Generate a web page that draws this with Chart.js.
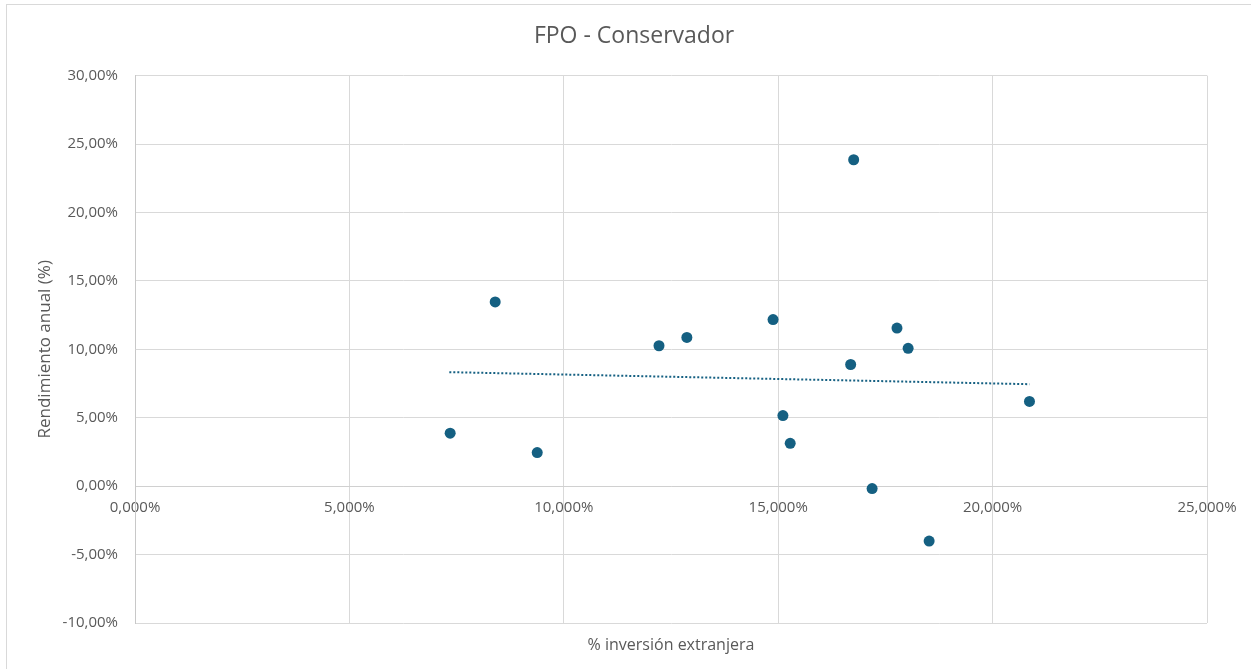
<!DOCTYPE html>
<html lang="es">
<head>
  <meta charset="UTF-8" />
  <title>FPO - Conservador</title>
  <script src="https://cdn.jsdelivr.net/npm/chart.js"></script>
  <style>
    html, body {
      margin: 0;
      padding: 0;
      background: #ffffff;
      overflow: hidden;
    }
    #frame {
      position: absolute;
      left: 6px;
      top: 4px;
      width: 1400px;
      height: 800px;
      border-top: 1px solid #d9d9d9;
      border-left: 1px solid #d9d9d9;
    }
    #wrap {
      position: relative;
      width: 1251px;
      height: 669px;
    }
  </style>
</head>
<body>
  <div id="frame"></div>
  <div id="wrap"><canvas id="chart"></canvas></div>
  <script>
    // % inversión extranjera (eje X) y rendimiento anual (eje Y), en %
    const inversion   = [7.35, 8.40, 9.38, 12.22, 12.87, 14.88, 15.11, 15.28, 16.76, 16.69, 17.77, 18.03, 17.19, 18.52, 20.86];
    const rendimiento = [3.87, 13.46, 2.45, 10.26, 10.87, 12.17, 5.16, 3.13, 23.85, 8.89, 11.55, 10.07, -0.18, -4.01, 6.19];

    // línea de tendencia (extremos)
    const tendenciaX = [7.33, 20.86];
    const tendenciaY = [8.33, 7.45];

    const xTicks = [0, 5, 10, 15, 20, 25];
    const yTicks = [-10, -5, 0, 5, 10, 15, 20, 25, 30];

    const azul = "#156082";
    const gris = "#595959";
    const fuente = "'Open Sans', sans-serif";

    const puntos = inversion.map((x, i) => ({ x, y: rendimiento[i] }));
    const tendencia = tendenciaX.map((x, i) => ({ x, y: tendenciaY[i] }));

    const fmtX = v => v.toFixed(3).replace(".", ",") + "%";
    const fmtY = v => v.toFixed(2).replace(".", ",") + "%";

    new Chart(document.getElementById("chart"), {
      type: "scatter",
      data: {
        datasets: [
          {
            label: "Rendimiento",
            data: puntos,
            backgroundColor: azul,
            borderColor: azul,
            pointRadius: 5.5,
            pointBorderWidth: 0
          },
          {
            type: "line",
            label: "Tendencia",
            data: tendencia,
            borderColor: azul,
            borderWidth: 2,
            borderDash: [2, 2],
            pointRadius: 0,
            fill: false
          }
        ]
      },
      options: {
        responsive: true,
        maintainAspectRatio: false,
        animation: false,
        layout: { padding: { left: 17, right: 0, top: 0, bottom: 0 } },
        plugins: {
          legend: { display: false },
          tooltip: { enabled: false },
          title: {
            display: true,
            text: "FPO - Conservador",
            color: gris,
            font: { family: fuente, size: 23, weight: "normal" },
            padding: { top: 23, bottom: 25 }
          }
        },
        scales: {
          x: {
            type: "linear",
            position: { y: 0 },
            min: 0,
            max: 25,
            afterBuildTicks: s => { s.ticks = xTicks.map(v => ({ value: v })); },
            ticks: {
              color: gris,
              font: { family: fuente, size: 15 },
              padding: 13,
              maxRotation: 0,
              callback: v => fmtX(v)
            },
            grid: { color: "#d9d9d9", drawTicks: false },
            border: { color: "#d0d0d0" }
          },
          x2: {
            type: "linear",
            axis: "x",
            position: "bottom",
            min: 0,
            max: 25,
            ticks: { display: false },
            grid: { display: false },
            border: { display: false },
            title: {
              display: true,
              text: "% inversión extranjera",
              color: gris,
              font: { family: fuente, size: 16 },
              padding: { top: 0, bottom: 14 }
            },
            afterFit: s => { s.height = 46; }
          },
          y: {
            type: "linear",
            min: -10,
            max: 30,
            afterBuildTicks: s => { s.ticks = yTicks.map(v => ({ value: v })); },
            ticks: {
              color: gris,
              font: { family: fuente, size: 15 },
              padding: 17,
              callback: v => fmtY(v)
            },
            grid: { color: "#d9d9d9", drawTicks: false },
            border: { color: "#c8c8c8" },
            title: {
              display: true,
              text: "Rendimiento anual (%)",
              color: gris,
              font: { family: fuente, size: 17 },
              padding: { top: 18, bottom: 0 }
            },
            afterFit: s => { s.width = 118; }
          },
          y2: {
            type: "linear",
            axis: "y",
            position: "right",
            min: -10,
            max: 30,
            ticks: { display: false },
            grid: { display: false },
            border: { display: false },
            afterFit: s => { s.width = 44; }
          }
        }
      }
    });
  </script>
</body>
</html>
